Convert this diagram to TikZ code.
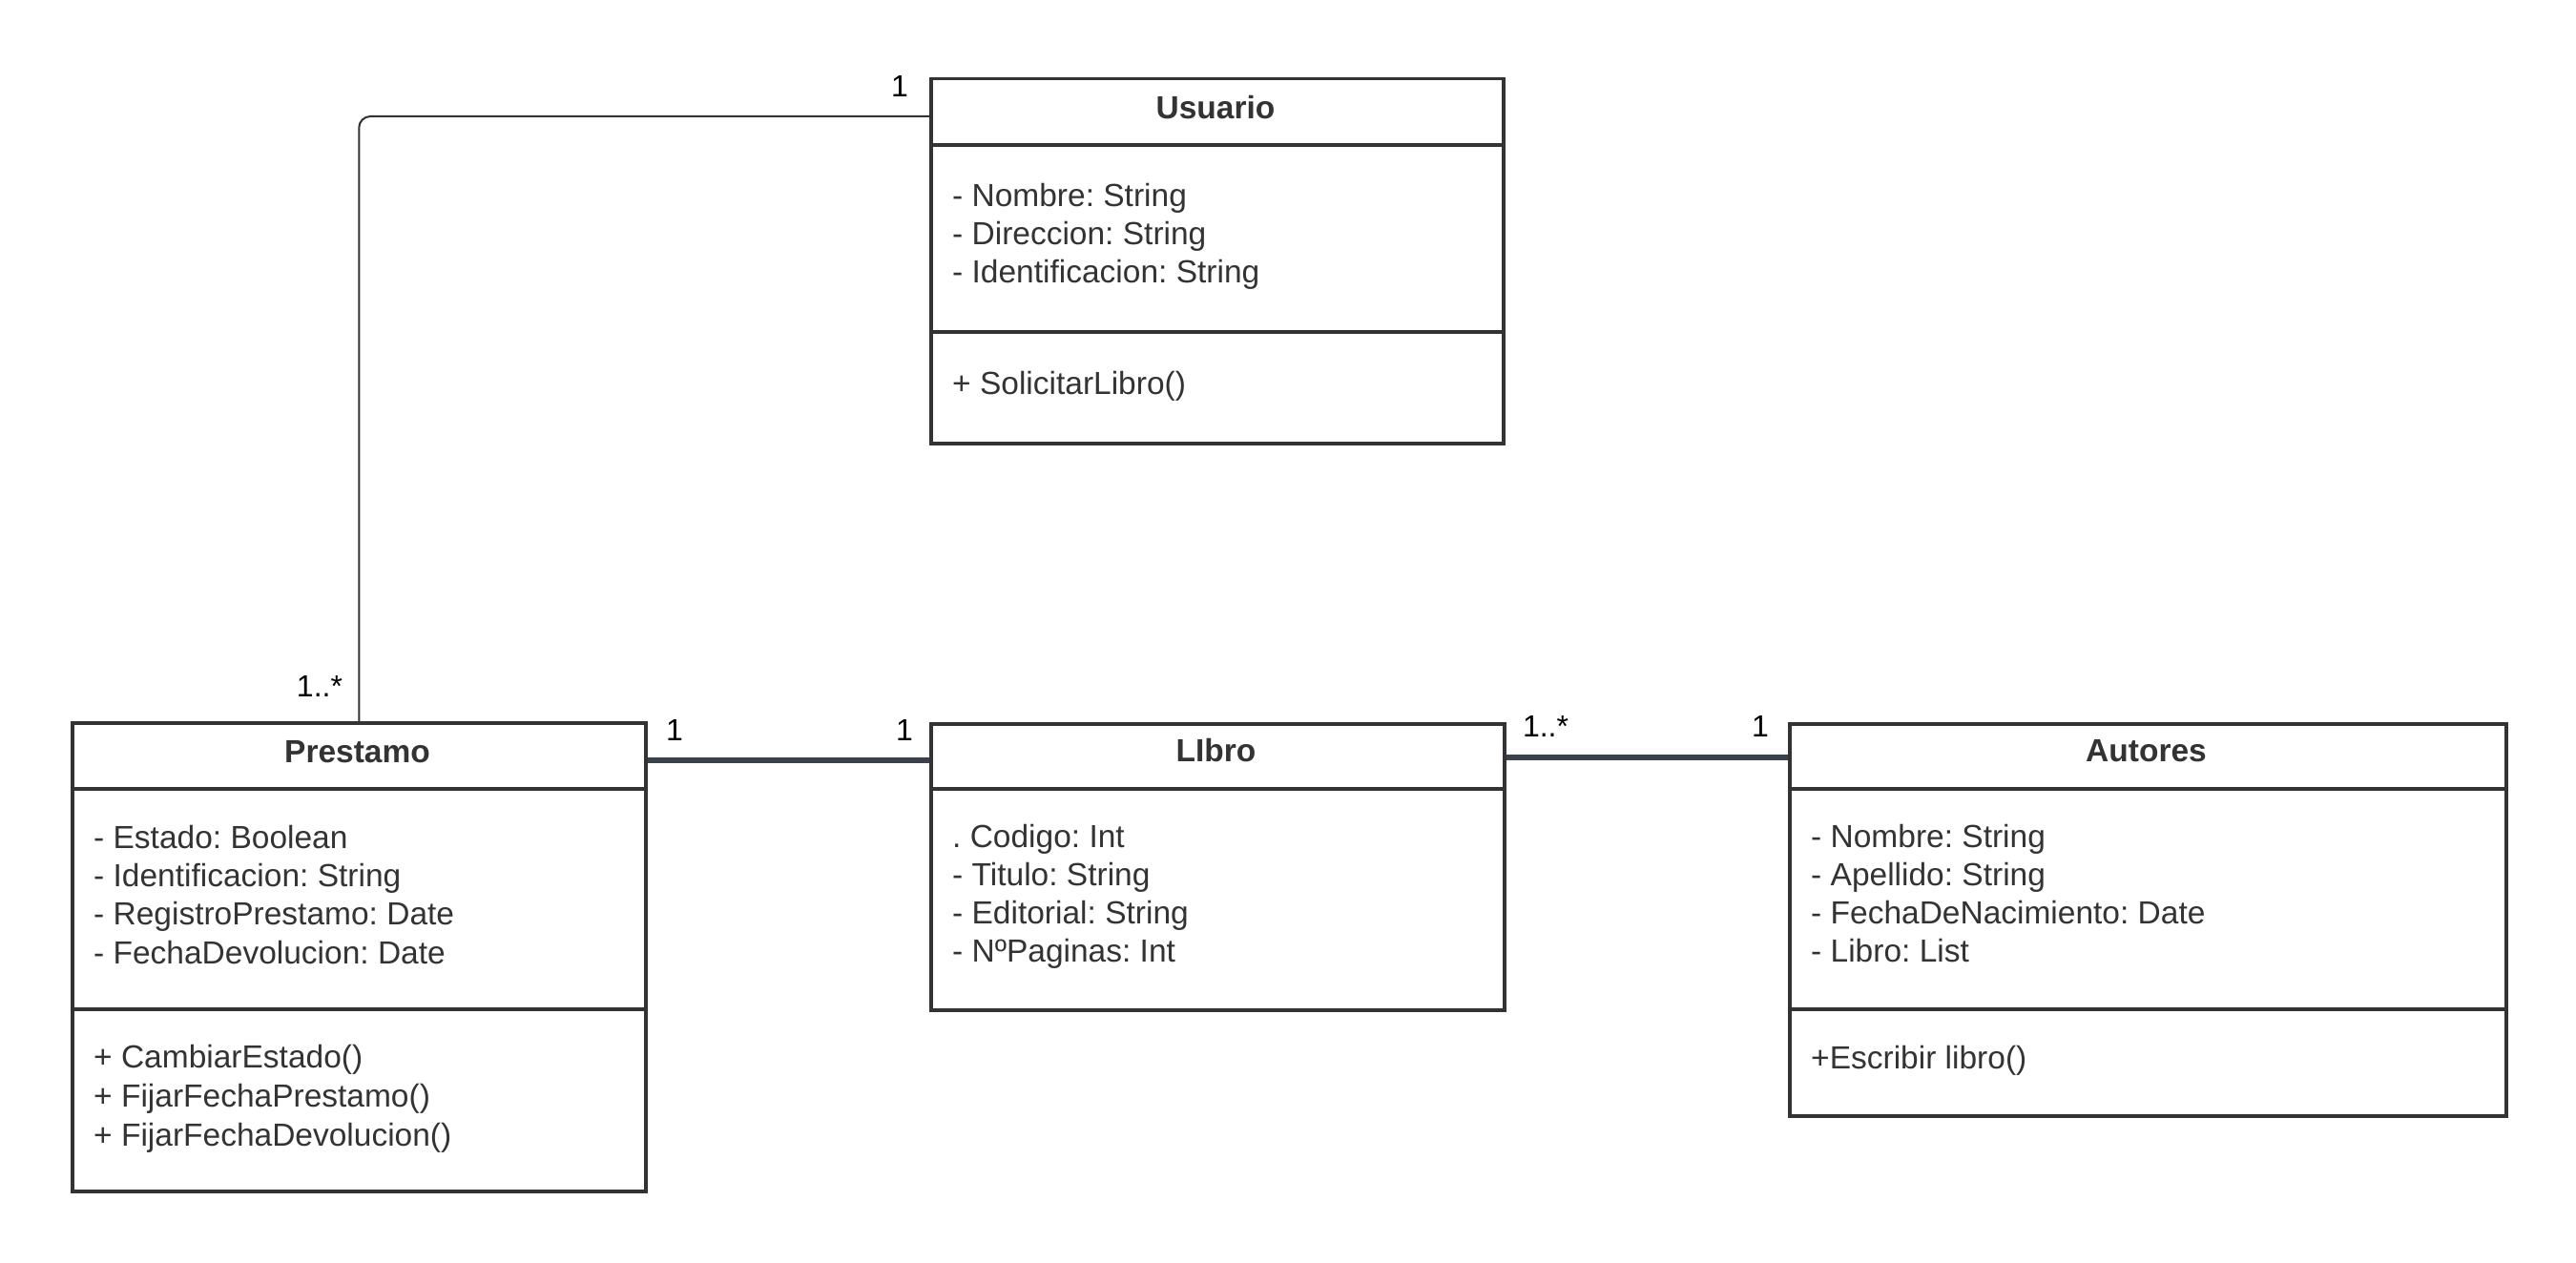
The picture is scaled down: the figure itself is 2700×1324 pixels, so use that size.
\documentclass[tikz,border=0pt]{standalone}
\usepackage{fontspec}
\setmainfont{Liberation Sans}
\usetikzlibrary{calc}
\definecolor{ink}{HTML}{333333}
\definecolor{conn}{HTML}{3A414A}
\frenchspacing
\begin{document}
\begin{tikzpicture}[x=1pt,y=-1pt,
 cls/.style={draw=ink, line width=3.5pt, rectangle, inner sep=0pt, anchor=north west},
 sepline/.style={draw=ink, line width=3.5pt},
 title/.style={font=\bfseries\fontsize{33.5}{40}\selectfont, text=ink, anchor=base, inner sep=0pt},
 attr/.style={font=\fontsize{33.5}{40}\selectfont, text=ink, anchor=base west, inner sep=0pt},
 mult/.style={font=\fontsize{32}{36}\selectfont, text=black, anchor=base, inner sep=0pt},
 assoc/.style={draw=conn, line width=6pt},
 thinconn/.style={draw=ink, line width=2pt, rounded corners=12pt}]
\useasboundingbox[fill=white] (0,0) rectangle (2700,1324);

% Usuario
\node[cls, minimum width=600pt, minimum height=382pt] (usuario) at (974,81) {};
\node[title] (usuarioT) at (1274,125) {Usuario};
\draw[sepline] ($(usuario.north west)+(0,71)$) -- ($(usuario.north east)+(0,71)$);
\draw[sepline] ($(usuario.north west)+(0,267)$) -- ($(usuario.north east)+(0,267)$);
\node[attr] (ua1) at (998,217) {- Nombre: String};
\node[attr] (ua2) at (998,257) {- Direccion: String};
\node[attr] (ua3) at (998,297) {- Identificacion: String};
\node[attr] (um1) at (998,413) {+ SolicitarLibro()};

% Prestamo
\node[cls, minimum width=601pt, minimum height=491pt] (prestamo) at (74,756) {};
\node[title] (prestamoT) at (374.5,799) {Prestamo};
\draw[sepline] ($(prestamo.north west)+(0,71)$) -- ($(prestamo.north east)+(0,71)$);
\draw[sepline] ($(prestamo.north west)+(0,302)$) -- ($(prestamo.north east)+(0,302)$);
\node[attr] (pa1) at (98,889) {- Estado: Boolean};
\node[attr] (pa2) at (98,929) {- Identificacion: String};
\node[attr] (pa3) at (98,969) {- RegistroPrestamo: Date};
\node[attr] (pa4) at (98,1010) {- FechaDevolucion: Date};
\node[attr] (pm1) at (98,1119) {+ CambiarEstado()};
\node[attr] (pm2) at (98,1160) {+ FijarFechaPrestamo()};
\node[attr] (pm3) at (98,1201) {+ FijarFechaDevolucion()};

% Libro
\node[cls, minimum width=601pt, minimum height=300pt] (libro) at (974,757) {};
\node[title] (libroT) at (1274.5,798) {LIbro};
\draw[sepline] ($(libro.north west)+(0,70)$) -- ($(libro.north east)+(0,70)$);
\node[attr] (la1) at (998,888) {. Codigo: Int};
\node[attr] (la2) at (998,928) {- Titulo: String};
\node[attr] (la3) at (998,968) {- Editorial: String};
\node[attr] (la4) at (998,1008) {- NºPaginas: Int};

% Autores
\node[cls, minimum width=751pt, minimum height=411pt] (autores) at (1874,757) {};
\node[title] (autoresT) at (2249.5,798) {Autores};
\draw[sepline] ($(autores.north west)+(0,70)$) -- ($(autores.north east)+(0,70)$);
\draw[sepline] ($(autores.north west)+(0,301)$) -- ($(autores.north east)+(0,301)$);
\node[attr] (aa1) at (1898,888) {- Nombre: String};
\node[attr] (aa2) at (1898,928) {- Apellido: String};
\node[attr] (aa3) at (1898,968) {- FechaDeNacimiento: Date};
\node[attr] (aa4) at (1898,1008) {- Libro: List};
\node[attr] (am1) at (1898,1120) {+Escribir libro()};

% connectors
\draw[thinconn] (prestamo.north) |- ($(usuario.north west)+(0,41)$);
\draw[assoc] ($(prestamo.north east)+(0,41)$) -- ($(libro.north west)+(0,40)$);
\draw[assoc] ($(libro.north east)+(0,37)$) -- ($(autores.north west)+(0,37)$);

% multiplicities
\node[mult] (m1) at (943,102) {1};
\node[mult] (m2) at (335,730) {1..*};
\node[mult] (m3) at (707,776) {1};
\node[mult] (m4) at (948,776) {1};
\node[mult] (m5) at (1620,772) {1..*};
\node[mult] (m6) at (1845,772) {1};
\end{tikzpicture}
\end{document}
